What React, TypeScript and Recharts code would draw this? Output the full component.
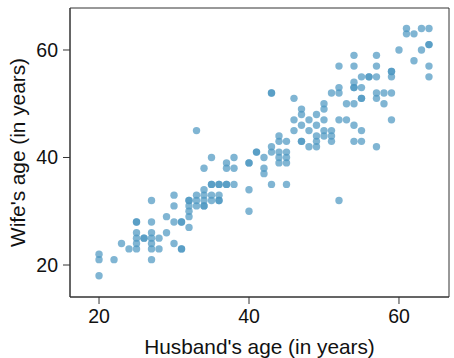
import { ScatterChart, Scatter, XAxis, YAxis, ReferenceArea, Label } from 'recharts';

// husband / wife ages, one pair per point (repeats = darker overlapping dots)
const husbandAges = [
  20, 20, 20, 22, 23, 24,
  25, 25, 25, 25, 25, 25,
  26, 26,
  27, 27, 27, 27, 27, 27, 27,
  28, 28,
  29, 29,
  30, 30, 30, 30,
  31, 31, 31, 31,
  32, 32, 32, 32, 32, 32,
  33, 33, 33, 33,
  34, 34, 34, 34, 34, 34,
  35, 35, 35, 35, 35,
  36, 36, 36, 36, 36,
  37, 37, 37, 37,
  38, 38, 38,
  40, 40, 40, 40,
  41, 41,
  42, 42, 42,
  43, 43, 43, 43, 43,
  44, 44, 44, 44, 44,
  45, 45, 45, 45, 45,
  46, 46, 46,
  47, 47, 47, 47, 47,
  48, 48, 48,
  49, 49, 49, 49, 49,
  50, 50, 50, 50, 50,
  51, 51, 51, 51,
  52, 52, 52, 52, 52,
  53, 53,
  54, 54, 54, 54, 54, 54, 54, 54,
  55, 55, 55, 55, 55, 55,
  56, 56,
  57, 57, 57, 57, 57, 57,
  58, 58,
  59, 59, 59, 59, 59,
  60,
  61, 61,
  62, 62,
  63, 63,
  64, 64, 64, 64, 64,
];

const wifeAges = [
  22, 21, 18, 21, 24, 23,
  28, 28, 26, 25, 24, 23,
  25, 25,
  32, 28, 26, 25, 24, 23, 21,
  25, 23,
  29, 26,
  33, 31, 28, 24,
  28, 28, 23, 23,
  32, 32, 31, 30, 29, 27,
  45, 33, 32, 31,
  38, 34, 33, 32, 31, 31,
  40, 35, 35, 33, 32,
  35, 35, 33, 32, 32,
  39, 38, 35, 35,
  40, 38, 35,
  39, 39, 34, 30,
  41, 41,
  40, 38, 37,
  52, 52, 42, 41, 35,
  44, 43, 41, 40, 39,
  43, 41, 40, 39, 35,
  51, 47, 45,
  49, 48, 46, 43, 43,
  47, 45, 42,
  48, 46, 44, 43, 42,
  50, 49, 47, 45, 44,
  52, 45, 44, 43,
  57, 53, 52, 47, 32,
  50, 47,
  59, 57, 54, 53, 53, 50, 46, 43,
  55, 53, 51, 51, 45, 43,
  55, 55,
  59, 57, 55, 52, 51, 42,
  52, 50,
  56, 56, 55, 52, 47,
  60,
  64, 63,
  63, 58,
  64, 60,
  64, 61, 61, 57, 55,
];

const xTicks = [20, 40, 60];
const yTicks = [20, 40, 60];
const xDomain = [16.13, 66.67];
const yDomain = [14.05, 67.81];

const points = husbandAges.map((h, i) => ({ husband: h, wife: wifeAges[i] }));

const font = '"Liberation Sans", Arial, sans-serif';

const Dot = (props: any) => (
  <circle cx={props.cx} cy={props.cy} r={3.7} fill="#4a96c0" fillOpacity={0.7} />
);

export default function App() {
  return (
    <div style={{ position: 'absolute', left: 0, top: 0, fontFamily: font }}>
      <ScatterChart width={454} height={358} margin={{ top: 8, right: 5, left: 0, bottom: 0 }}>
        <XAxis
          type="number"
          dataKey="husband"
          domain={xDomain}
          ticks={xTicks}
          allowDataOverflow
          height={61}
          stroke="#333"
          tickSize={7}
          tickMargin={5}
          tick={{ fill: '#111', fontSize: 19.5, fontFamily: font }}
        >
          <Label
            value="Husband's age (in years)"
            position="center"
            dy={19}
            style={{ fill: '#111', fontSize: 20.8, fontFamily: font }}
          />
        </XAxis>
        <YAxis
          type="number"
          dataKey="wife"
          domain={yDomain}
          ticks={yTicks}
          allowDataOverflow
          width={70}
          stroke="#333"
          tickSize={7}
          tickMargin={5}
          tick={{ fill: '#111', fontSize: 19.5, fontFamily: font }}
        >
          <Label
            value="Wife's age (in years)"
            position="center"
            angle={-90}
            dx={-17}
            style={{ fill: '#111', fontSize: 20.8, fontFamily: font, textAnchor: 'middle' }}
          />
        </YAxis>
        <ReferenceArea
          x1={xDomain[0]}
          x2={xDomain[1]}
          y1={yDomain[0]}
          y2={yDomain[1]}
          fill="none"
          stroke="#333"
          strokeWidth={1}
          ifOverflow="visible"
        />
        <Scatter data={points} shape={Dot} isAnimationActive={false} />
      </ScatterChart>
    </div>
  );
}
